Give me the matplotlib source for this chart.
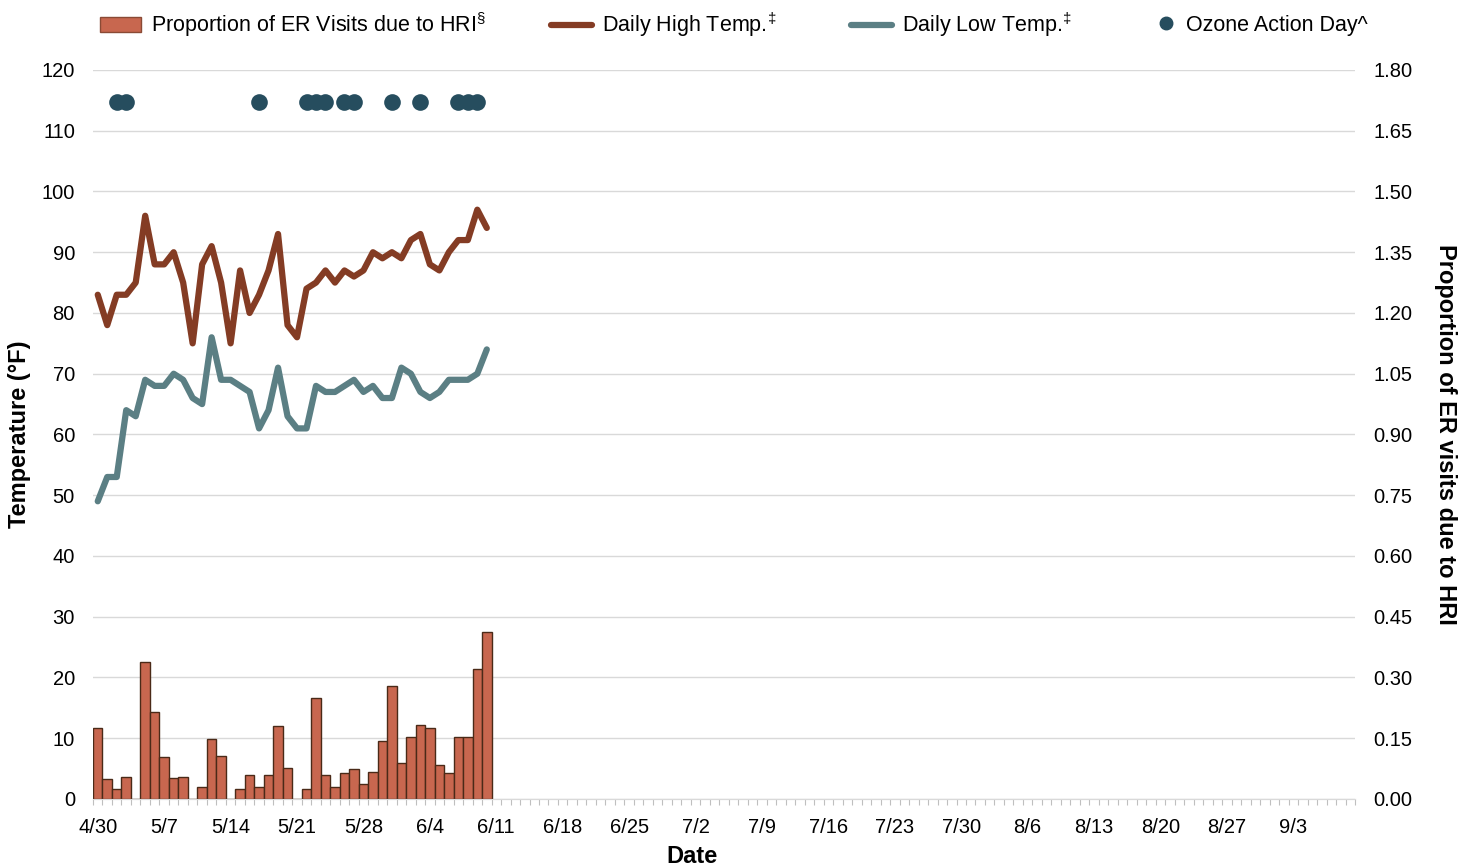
import numpy as np
import pandas as pd
import matplotlib
matplotlib.use("Agg")
import matplotlib.pyplot as plt
from matplotlib.lines import Line2D
from matplotlib.patches import Patch

plt.rcParams['font.family'] = ['Liberation Sans', 'DejaVu Sans']
plt.rcParams['mathtext.fontset'] = 'custom'
plt.rcParams['mathtext.rm'] = 'Liberation Sans'

# Season runs 4/30 through 9/9, data so far through 6/10
dates = pd.date_range("2019-04-30", "2019-09-09", freq="D")

high_temp = [83, 78, 83, 83, 85, 96, 88, 88, 90, 85, 75, 88, 91, 85, 75, 87,
             80, 83, 87, 93, 78, 76, 84, 85, 87, 85, 87, 86, 87, 90, 89, 90,
             89, 92, 93, 88, 87, 90, 92, 92, 97, 94]
low_temp = [49, 53, 53, 64, 63, 69, 68, 68, 70, 69, 66, 65, 76, 69, 69, 68,
            67, 61, 64, 71, 63, 61, 61, 68, 67, 67, 68, 69, 67, 68, 66, 66,
            71, 70, 67, 66, 67, 69, 69, 69, 70, 74]
hri_prop = [0.176, 0.050, 0.025, 0.055, 0.0, 0.338, 0.214, 0.103, 0.051, 0.055,
            0.0, 0.029, 0.149, 0.106, 0.0, 0.025, 0.060, 0.029, 0.060, 0.179,
            0.077, 0.0, 0.025, 0.250, 0.060, 0.029, 0.063, 0.073, 0.037, 0.066,
            0.143, 0.280, 0.088, 0.154, 0.182, 0.176, 0.085, 0.063, 0.154, 0.154,
            0.320, 0.413]
ozone_days = [2, 3, 17, 22, 23, 24, 26, 27, 31, 34, 38, 39, 40]  # day index from 4/30
ozone_level = 114.7

bar_color = '#C8674F'
high_color = '#843C24'
low_color = '#5B7F84'
ozone_color = '#264D5E'
grid_color = '#D9D9D9'

fig = plt.figure(figsize=(14.74, 8.66), dpi=100)
ax = fig.add_axes([0.0631, 0.0774, 0.8562, 0.8418])
ax2 = ax.twinx()

x = np.arange(len(high_temp))
ax2.bar(x, hri_prop, width=1.0, color=bar_color, edgecolor='#4A2A18', linewidth=1.0)

ax.plot(x, high_temp, color=high_color, lw=4.5, solid_capstyle='round', solid_joinstyle='round')
ax.plot(x, low_temp, color=low_color, lw=4.5, solid_capstyle='round', solid_joinstyle='round')
ax.plot(ozone_days, [ozone_level] * len(ozone_days), 'o', color=ozone_color, ms=12, mec='none')

n = len(dates)
ax.set_xlim(-0.5, n - 0.5)
ax.set_ylim(0, 120)
ax2.set_ylim(0, 1.8)
ax.set_yticks(np.arange(0, 121, 10))
ax2.set_yticks(np.arange(0, 1.81, 0.15))
ax2.set_yticklabels([f"{v:.2f}" for v in np.arange(0, 1.81, 0.15)])

major = np.arange(0, n, 7)
ax.set_xticks(major)
ax.set_xticklabels([f"{d.month}/{d.day}" for d in dates[major]])
ax.set_xticks(np.arange(n + 1) - 0.5, minor=True)
ax.tick_params(axis='x', which='major', length=0, labelsize=14.5, pad=14)
ax.tick_params(axis='x', which='minor', length=4, color='#BFBFBF', width=0.8)
ax.tick_params(axis='y', length=0, labelsize=14.5, pad=13)
ax2.tick_params(axis='y', length=0, labelsize=14.5, pad=13)

ax.grid(axis='y', color=grid_color, lw=1)
ax.set_axisbelow(True)
for a in (ax, ax2):
    for s in ('top', 'left', 'right'):
        a.spines[s].set_visible(False)
    a.spines['bottom'].set_color(grid_color)

ax.set_ylabel("Temperature (°F)", fontsize=17, fontweight='bold', va='center')
ax.yaxis.set_label_coords(-0.058, 0.5)
ax2.set_ylabel("Proportion of ER visits due to HRI", fontsize=17, fontweight='bold',
               rotation=270, va='center')
ax2.yaxis.set_label_coords(1.0713, 0.5)
ax.set_xlabel("Date", fontsize=17, fontweight='bold', va='center')
ax.xaxis.set_label_coords(0.475, -0.079)

# legend entries placed along the top
entries = [
    (Patch(facecolor=bar_color, edgecolor='#8a4a35'), r"Proportion of ER Visits due to HRI$^{\S}$", 100, 1.9),
    (Line2D([], [], color=high_color, lw=4.5, solid_capstyle='round'), r"Daily High Temp.$^{\ddag}$", 551, 1.9),
    (Line2D([], [], color=low_color, lw=4.5, solid_capstyle='round'), r"Daily Low Temp.$^{\ddag}$", 851, 1.9),
    (Line2D([], [], marker='o', ls='none', color=ozone_color, ms=9), "Ozone Action Day^", 1155, 1.0),
]
for handle, label, xpix, hl in entries:
    fig.legend([handle], [label], loc='center left',
               bbox_to_anchor=(xpix / 1474, 1 - 25 / 866), frameon=False,
               fontsize=15.5, handlelength=hl, handletextpad=0.45,
               borderaxespad=0, borderpad=0)

fig.savefig("out.png", dpi=100)
